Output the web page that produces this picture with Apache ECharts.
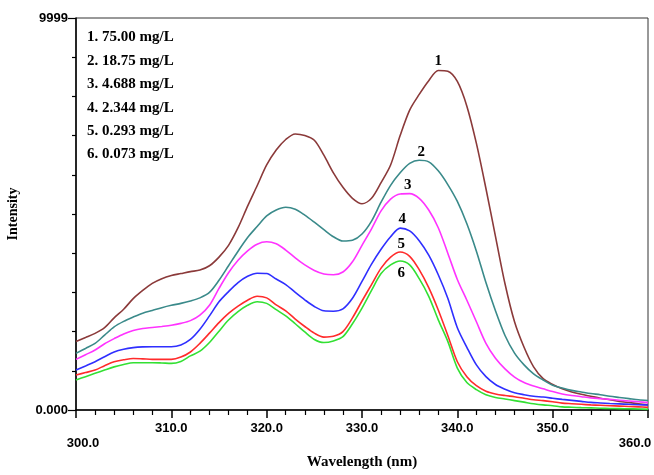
<!DOCTYPE html>
<html>
<head>
<meta charset="utf-8">
<script src="https://cdn.jsdelivr.net/npm/echarts@6/dist/echarts.min.js"></script>
<style>
html,body{margin:0;padding:0;background:#fff;}
#chart{width:654px;height:475px;}
</style>
</head>
<body>
<div id="chart"></div>
<script>
// Wavelength (nm)
const wavelength = [300,301,302,303,304,305,306,307,308,309,310,311,312,313,314,315,316,317,318,319,320,
  321,322,323,324,325,326,327,328,329,330,331,332,333,334,335,336,337,338,339,340,
  341,342,343,344,345,346,347,348,349,350,351,352,353,354,355,356,357,358,359,360];

const seriesNames = ['1. 75.00 mg/L','2. 18.75 mg/L','3. 4.688 mg/L','4. 2.344 mg/L','5. 0.293 mg/L','6. 0.073 mg/L'];
const curveLabels = ['1','2','3','4','5','6'];

const s1 = [1750,1850,1955,2100,2350,2570,2840,3050,3230,3350,3430,3480,3530,3570,3680,3900,4200,4650,5200,5720,6250,
  6630,6900,7040,7000,6880,6500,6050,5680,5400,5260,5400,5800,6250,7000,7650,8050,8400,8660,8640,8380,
  7750,6800,5650,4430,3220,2250,1600,1100,800,650,540,460,400,350,300,260,220,190,160,130];
const s2 = [1445,1570,1700,1910,2120,2260,2370,2470,2540,2610,2670,2720,2780,2860,3000,3310,3680,4050,4400,4680,4950,
  5100,5170,5120,4970,4790,4600,4420,4310,4330,4490,4820,5300,5730,6050,6290,6370,6330,6100,5750,5320,
  4750,4050,3250,2530,1900,1450,1150,920,765,630,560,500,460,420,390,350,320,290,260,238];
const s3 = [1292,1410,1530,1690,1820,1940,2030,2080,2105,2130,2160,2210,2280,2420,2670,3100,3500,3820,4060,4230,4290,
  4240,4080,3880,3700,3560,3470,3450,3520,3780,4200,4620,5080,5380,5510,5520,5400,5100,4650,4000,3330,
  2800,2250,1700,1320,1050,840,700,610,540,470,410,370,340,310,290,270,250,230,210,187];
const s4 = [1020,1125,1232,1360,1480,1550,1590,1610,1615,1615,1615,1660,1800,2060,2400,2760,3020,3250,3410,3490,3480,
  3340,3200,3000,2810,2640,2530,2520,2580,2850,3280,3720,4100,4420,4640,4570,4320,3950,3450,2850,2100,
  1600,1150,850,650,530,440,390,350,330,300,270,245,220,195,180,165,155,145,135,127];
const s5 = [892,955,1020,1130,1230,1280,1315,1305,1292,1292,1292,1350,1480,1700,1960,2230,2465,2650,2800,2900,2860,
  2680,2530,2320,2130,1960,1860,1880,2000,2350,2780,3200,3620,3900,4030,3920,3580,3120,2550,1900,1230,
  850,620,480,410,370,340,300,260,240,210,175,160,145,130,120,110,100,90,80,68];
const s6 = [765,850,935,1020,1100,1160,1205,1207,1207,1200,1190,1240,1380,1500,1720,2010,2295,2510,2670,2760,2720,
  2560,2400,2200,1990,1800,1720,1760,1870,2200,2600,3050,3480,3700,3800,3700,3350,2900,2300,1750,1070,
  700,520,390,320,280,240,200,160,130,110,80,70,60,55,45,40,35,30,25,17];

const allSeries = [s1,s2,s3,s4,s5,s6];
const colors = ['#8b3a3a','#3a8a8a','#ff33ff','#2f2fff','#ff2b2b','#33e033'];
const labelOffsets = [[0,-9],[2,-8],[-2,-8],[2,-9],[1,-8],[1,12]];

const serif = '"Liberation Serif","Times New Roman",serif';
const sans = '"Liberation Sans",Arial,sans-serif';

const series = allSeries.map((vals, i) => {
  let idx = 0;
  vals.forEach((v, j) => { if (v > vals[idx]) idx = j; });
  return {
    name: seriesNames[i],
    type: 'line',
    data: wavelength.map((w, j) => [w, vals[j]]),
    smooth: 0.3,
    showSymbol: false,
    symbol: 'none',
    lineStyle: { color: colors[i], width: 1.6 },
    itemStyle: { color: colors[i] },
    z: 2 + i,
    markPoint: {
      symbol: 'circle',
      symbolSize: 0,
      silent: true,
      data: [{
        coord: [wavelength[idx], vals[idx]],
        label: {
          show: true,
          formatter: curveLabels[i],
          offset: labelOffsets[i],
          color: '#000',
          fontFamily: serif,
          fontWeight: 'bold',
          fontSize: 15
        }
      }]
    }
  };
});

const chart = echarts.init(document.getElementById('chart'), null, { renderer: 'canvas' });
chart.setOption({
  animation: false,
  backgroundColor: '#fff',
  grid: {
    left: 76, right: 6, top: 18, bottom: 65,
    containLabel: false,
    outerBoundsMode: 'none',
    show: true,
    borderColor: '#333',
    borderWidth: 1
  },
  legend: {
    orient: 'vertical',
    left: 77,
    top: 25,
    icon: 'none',
    itemWidth: 0,
    itemHeight: 14,
    itemGap: 8.4,
    selectedMode: false,
    data: seriesNames,
    textStyle: { color: '#000', fontFamily: serif, fontWeight: 'bold', fontSize: 15 }
  },
  xAxis: {
    type: 'value',
    min: 300,
    max: 360,
    interval: 10,
    name: 'Wavelength (nm)',
    nameLocation: 'middle',
    nameGap: 45,
    nameTextStyle: { color: '#000', fontFamily: serif, fontWeight: 'bold', fontSize: 15 },
    axisLine: { show: true, lineStyle: { color: '#000', width: 1.5 } },
    axisTick: { show: true, inside: false, length: 8, lineStyle: { color: '#000', width: 1.5 } },
    minorTick: { show: true, splitNumber: 5, length: 5, lineStyle: { color: '#000', width: 1.2 } },
    splitLine: { show: false },
    axisLabel: {
      margin: 12,
      color: '#000',
      fontFamily: sans,
      fontWeight: 'bold',
      fontSize: 13,
      formatter: function (v) {
        const t = v.toFixed(1);
        if (v === 300) return '{lo|' + t + '}';
        if (v === 360) return '{hi|' + t + '}';
        return '{n|' + t + '}';
      },
      rich: {
        n: { fontFamily: sans, fontWeight: 'bold', fontSize: 13, color: '#000' },
        lo: { fontFamily: sans, fontWeight: 'bold', fontSize: 13, color: '#000', padding: [15, 0, 0, 14] },
        hi: { fontFamily: sans, fontWeight: 'bold', fontSize: 13, color: '#000', padding: [15, 26, 0, 0] }
      }
    }
  },
  yAxis: {
    type: 'value',
    min: 0,
    max: 9999,
    interval: 9999,
    name: 'Intensity',
    nameLocation: 'middle',
    nameGap: 56,
    nameRotate: 90,
    nameTextStyle: { color: '#000', fontFamily: serif, fontWeight: 'bold', fontSize: 14 },
    axisLine: { show: true, lineStyle: { color: '#000', width: 1.5 } },
    axisTick: { show: true, inside: false, length: 8, lineStyle: { color: '#000', width: 1.2 } },
    minorTick: { show: true, splitNumber: 10, length: 4, lineStyle: { color: '#000', width: 1.2 } },
    splitLine: { show: false },
    axisLabel: {
      margin: 8,
      color: '#000',
      fontFamily: sans,
      fontWeight: 'bold',
      fontSize: 13,
      formatter: function (v) { return v < 1 ? '0.000' : String(Math.round(v)); }
    }
  },
  series: series
});
</script>
</body>
</html>
